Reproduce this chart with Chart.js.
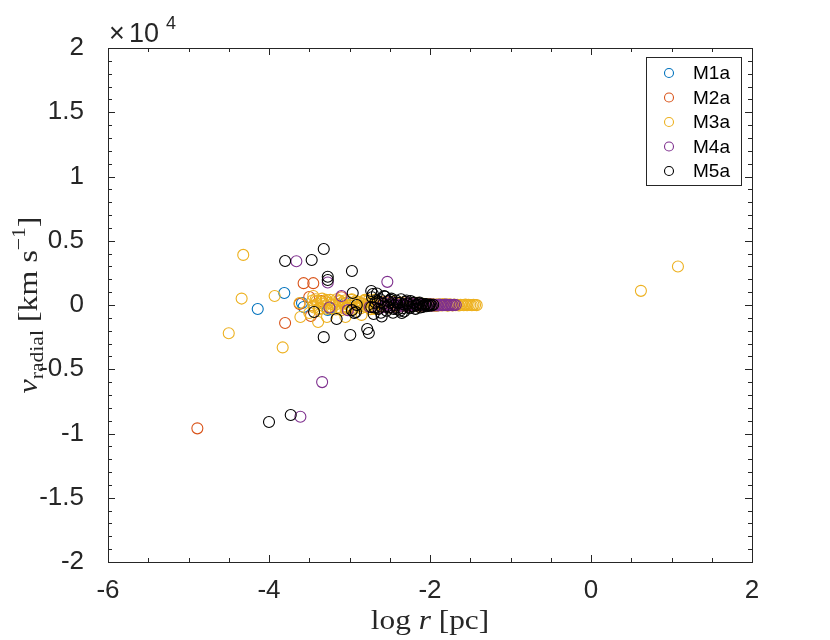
<!DOCTYPE html>
<html>
<head>
<meta charset="utf-8">
<script src="https://cdn.jsdelivr.net/npm/chart.js@4.4.0/dist/chart.umd.min.js"></script>
<style>
  html, body { margin: 0; padding: 0; background: #fff; }
</style>
</head>
<body>
<canvas id="velChart" width="830" height="640"></canvas>
<script>
// values: x = log r [pc], y = v_radial [km/s]
const seriesNames = ["M1a", "M2a", "M3a", "M4a", "M5a"];

const m1aX = [-4.14, -3.81, -3.57, -3.59, -3.24, -3.27, -3.05, -2.88];
const m1aY = [-310, 930, -150, 150, -300, -390, 150, -60];

const m2aX = [-4.89, -3.57, -3.45, -3.80, -3.50, -3.48, -3.10, -3.35, -3.02, -2.85, -3.62];
const m2aY = [-9600, 1700, 1700, -1400, 620, -860, 600, 300, -250, 120, 80];

const m3aX = [
  // scattered points
  -4.32, -4.34, -4.50, -3.93, -3.83, 0.62, 1.08, -3.61, -3.39, -3.62, -3.45, -3.50, -3.28, -3.05, -2.85,
  // dense band
  -3.46, -3.44, -3.42, -3.40, -3.38, -3.36, -3.34, -3.32, -3.30, -3.28, -3.26, -3.24, -3.22, -3.20,
  -3.18, -3.16, -3.14, -3.12, -3.10, -3.08, -3.06, -3.04, -3.02, -3.00, -2.98, -2.96, -2.94, -2.92,
  -2.90, -2.88, -2.86, -2.84, -2.82, -2.80, -2.78, -2.76, -2.74, -2.72, -2.70, -2.68, -2.66, -2.64, -2.62,
  -3.45, -3.41, -3.37, -3.33, -3.29, -3.25, -3.21, -3.17, -3.13, -3.09, -3.05, -3.01, -2.97, -2.93,
  -2.89, -2.85, -2.81, -2.77, -2.73, -2.69, -2.65, -2.61,
  -2.60, -2.58, -2.56, -2.54, -2.52, -2.50, -2.48, -2.46, -2.44, -2.42, -2.40, -2.38, -2.36, -2.34,
  -2.32, -2.30, -2.28, -2.26, -2.24, -2.22, -2.20, -2.18, -2.16, -2.14, -2.12, -2.10, -2.08, -2.06,
  -2.04, -2.02, -2.00,
  -1.98, -1.96, -1.94, -1.92, -1.90, -1.88, -1.86, -1.84, -1.82, -1.80, -1.78, -1.76, -1.74, -1.72,
  -1.70, -1.68, -1.66, -1.64, -1.62, -1.60, -1.58, -1.56, -1.54, -1.52, -1.50, -1.48, -1.46, -1.44, -1.42
];
const m3aY = [
  3900, 500, -2200, 700, -3300, 1100, 3000, -930, -1320, 150, 700, -620, -930, -930, -770,
  350, -200, 450, 100, -350, 250, 500, -100, 300, -300, 150, 400, -250, 200,
  0, 450, -150, 300, -400, 100, 350, -200, 250, -50, 400, -300, 150, 300,
  -100, 200, -250, 50, 300, -150, 100, 380, -320, 220, -80, 420, -260, 160, 40,
  -50, 300, -250, 100, 400, -150, 50, -350, 350, 200, -300, 0, 450, -200,
  250, -100, 400, -50, 150, -300, 250, -100,
  200, -150, 250, -100, 150, -200, 100, 250, -50, 150, -150, 50, 200, -100,
  100, -50, 150, 0, -100, 50, 120, -80, 180, -120, 60, -30, 90, -60,
  20, 70, -40,
  80, -50, 40, -80, 60, 0, -40, 70, -20, 30, -60, 50, 0, -30,
  40, -10, 20, -40, 10, 0, -20, 30, -10, 20, 0, -20, 10, 0, -10
];

const m4aX = [
  -3.61, -3.34, -3.66, -3.27, -3.10, -2.53, -3.02, -2.75, -3.25,
  -2.60, -2.58, -2.56, -2.54, -2.52, -2.50, -2.48, -2.46, -2.44, -2.42, -2.40, -2.38, -2.36, -2.34,
  -2.32, -2.30, -2.28, -2.26, -2.24, -2.22, -2.20, -2.18, -2.16, -2.14, -2.12, -2.10, -2.08, -2.06,
  -2.04, -2.02, -2.00, -1.98, -1.96, -1.94, -1.92, -1.90, -1.88, -1.86, -1.84, -1.82, -1.80, -1.78,
  -1.76, -1.74, -1.72, -1.70, -1.68
];
const m4aY = [
  -8700, -6000, 3400, 1750, 700, 1800, -400, -150, -200,
  -200, 150, -100, 250, 50, -150, 200, -50, 100, -200, 150, 0, -100, 100,
  -50, 50, 150, -80, 60, -40, 80, -60, 30, -20, 50, -30, 10, 40,
  -10, 0, 60, -50, 40, -30, 20, -40, 30, 0, -20, 10, 30, -10,
  0, 20, -10, 10, 0
];

const m5aX = [
  // scattered points
  -4.00, -3.73, -3.80, -3.47, -3.32, -3.27, -3.27, -2.97, -2.96, -3.44, -3.16, -3.32, -2.99,
  -2.78, -2.76, -2.97, -2.94, -2.73, -2.71, -2.73, -2.91, -2.92, -2.35,
  // dense cluster
  -2.72, -2.70, -2.68, -2.66, -2.64, -2.62, -2.60, -2.58, -2.56, -2.54, -2.52, -2.50, -2.48,
  -2.46, -2.44, -2.42, -2.40, -2.38, -2.36, -2.34, -2.32, -2.30, -2.28, -2.26, -2.24, -2.22,
  -2.20, -2.18, -2.16, -2.14, -2.12, -2.10, -2.08, -2.06, -2.04, -2.02, -2.00, -1.98, -1.96,
  -2.69, -2.65, -2.61, -2.57, -2.53, -2.49, -2.45, -2.41, -2.37, -2.33, -2.29, -2.25, -2.21,
  -2.17, -2.13, -2.09, -2.05, -2.01
];
const m5aY = [
  -9100, -8560, 3420, 3500, 4360, 2200, 1950, 2650, 930, -540, -1090, -2500, -2330,
  -1870, -2180, -400, -620, 1090, 860, -150, 0, -550, -620,
  600, -700, 200, 900, -300, 450, -900, 100, 650, -450, 300, -200, 500,
  -600, 0, 350, -350, 150, 450, -250, -500, 250, 100, -150, 300, -100,
  200, -300, 50, 150, -200, 100, -50, 50, -100, 0, 30, -40, 20,
  -200, 300, -600, 700, -100, 400, -300, 200, -450, 50, 350, -250, 150,
  -50, 200, -150, 80, -60
];

const xTicks = [-6, -4, -2, 0, 2];
const yTicks = [-20000, -15000, -10000, -5000, 0, 5000, 10000, 15000, 20000];

const colors = ["#0072BD", "#D95319", "#EDB120", "#7E2F8E", "#000000"];
const axisColor = "#262626";

function toPoints(xs, ys) {
  return xs.map((v, i) => ({ x: v, y: ys[i] }));
}

const allX = [m1aX, m2aX, m3aX, m4aX, m5aX];
const allY = [m1aY, m2aY, m3aY, m4aY, m5aY];

const datasets = seriesNames.map((name, i) => ({
  label: name,
  data: toPoints(allX[i], allY[i]),
  borderColor: colors[i],
  backgroundColor: "rgba(0,0,0,0)",
  pointRadius: 5.5,
  pointBorderWidth: 1.1,
  // later series drawn on top, like MATLAB
  order: seriesNames.length - i,
}));

// box, inward ticks on all four sides
const axesBox = {
  id: "axesBox",
  afterDatasetsDraw(chart) {
    const { ctx, chartArea: a, scales } = chart;
    const x = scales.x, y = scales.y;
    ctx.save();
    ctx.strokeStyle = axisColor;
    ctx.lineWidth = 1;
    ctx.beginPath();
    for (let v = -6; v <= 2.0001; v += 0.5) {
      const px = Math.round(x.getPixelForValue(v)) + 0.5;
      const len = xTicks.includes(v) ? 7 : 4;
      ctx.moveTo(px, a.bottom);
      ctx.lineTo(px, a.bottom - len);
      ctx.moveTo(px, a.top);
      ctx.lineTo(px, a.top + len);
    }
    for (let v = -20000; v <= 20000; v += 1000) {
      const py = Math.round(y.getPixelForValue(v)) + 0.5;
      const len = v % 5000 === 0 ? 7 : 4;
      ctx.moveTo(a.left, py);
      ctx.lineTo(a.left + len, py);
      ctx.moveTo(a.right, py);
      ctx.lineTo(a.right - len, py);
    }
    ctx.stroke();
    ctx.strokeRect(Math.round(a.left) + 0.5, Math.round(a.top) + 0.5,
      Math.round(a.right - a.left), Math.round(a.bottom - a.top));
    ctx.restore();
  },
};

function drawParts(ctx, parts, startX, baseY) {
  let cx = startX;
  parts.forEach((p) => {
    ctx.font = p.font;
    ctx.fillText(p.t, cx, baseY + (p.dy || 0));
    cx += ctx.measureText(p.t).width;
  });
}

function partsWidth(ctx, parts) {
  let w = 0;
  parts.forEach((p) => {
    ctx.font = p.font;
    w += ctx.measureText(p.t).width;
  });
  return w;
}

const labelsAndLegend = {
  id: "labelsAndLegend",
  afterDraw(chart) {
    const { ctx, chartArea: a } = chart;
    ctx.save();
    ctx.fillStyle = axisColor;
    ctx.textBaseline = "alphabetic";
    ctx.textAlign = "left";

    // exponent above the y axis
    ctx.font = "27px 'Liberation Sans'";
    ctx.fillText("\u00d7", a.left + 1, 42);
    ctx.fillText("10", a.left + 21, 42);
    ctx.font = "18px 'Liberation Sans'";
    ctx.fillText("4", a.left + 58, 29);

    // x axis title (latex-like serif, a bit wider than Times)
    const serif = "'Liberation Serif', serif";
    const xParts = [
      { t: "log ", font: "27px " + serif },
      { t: "r", font: "italic 27px " + serif },
      { t: " [pc]", font: "27px " + serif },
    ];
    const xw = partsWidth(ctx, xParts);
    ctx.save();
    ctx.translate((a.left + a.right) / 2, 629);
    ctx.scale(1.16, 1);
    drawParts(ctx, xParts, -xw / 2, 0);
    ctx.restore();

    // y axis title, rotated
    const yParts = [
      { t: "v", font: "italic 28px " + serif },
      { t: "radial", font: "19px " + serif, dy: 6 },
      { t: " [km s", font: "28px " + serif },
      { t: "\u22121", font: "19px " + serif, dy: -12 },
      { t: "]", font: "28px " + serif },
    ];
    const yw = partsWidth(ctx, yParts);
    ctx.save();
    ctx.translate(37, (a.top + a.bottom) / 2);
    ctx.rotate(-Math.PI / 2);
    ctx.scale(1.14, 1);
    drawParts(ctx, yParts, -yw / 2, 0);
    ctx.restore();

    // legend box, top right inside the axes
    const lx = 646, ly = 57, lw = 95, lh = 128;
    ctx.fillStyle = "#fff";
    ctx.fillRect(lx, ly, lw, lh);
    ctx.strokeStyle = axisColor;
    ctx.lineWidth = 1;
    ctx.strokeRect(lx + 0.5, ly + 0.5, lw, lh);
    ctx.font = "19px 'Liberation Sans'";
    ctx.textBaseline = "middle";
    seriesNames.forEach((name, i) => {
      const ry = ly + 16 + i * 24.5;
      ctx.beginPath();
      ctx.arc(lx + 23, ry, 4.5, 0, Math.PI * 2);
      ctx.strokeStyle = colors[i];
      ctx.lineWidth = 1.1;
      ctx.stroke();
      ctx.fillStyle = "#000";
      ctx.fillText(name, lx + 47, ry + 1);
    });
    ctx.restore();
  },
};

const tickFont = { family: "'Liberation Sans'", size: 26 };

new Chart(document.getElementById("velChart").getContext("2d"), {
  type: "scatter",
  data: { datasets: datasets },
  options: {
    responsive: false,
    animation: false,
    events: [],
    layout: { padding: { top: 48, right: 78, left: 0, bottom: 0 } },
    plugins: {
      legend: { display: false },
      tooltip: { enabled: false },
    },
    scales: {
      x: {
        type: "linear",
        min: -6,
        max: 2,
        grid: { display: false },
        border: { display: false },
        afterBuildTicks: (scale) => {
          scale.ticks = xTicks.map((v) => ({ value: v }));
        },
        afterFit: (scale) => {
          scale.height = 78;
        },
        ticks: {
          font: tickFont,
          color: axisColor,
          padding: 5,
          maxRotation: 0,
          callback: (v) => String(v),
        },
      },
      y: {
        type: "linear",
        min: -20000,
        max: 20000,
        grid: { display: false },
        border: { display: false },
        afterBuildTicks: (scale) => {
          scale.ticks = yTicks.map((v) => ({ value: v }));
        },
        afterFit: (scale) => {
          scale.width = 108;
        },
        ticks: {
          font: tickFont,
          color: axisColor,
          padding: 16,
          callback: (v) => String(v / 10000),
        },
      },
    },
  },
  plugins: [axesBox, labelsAndLegend],
});
</script>
</body>
</html>
